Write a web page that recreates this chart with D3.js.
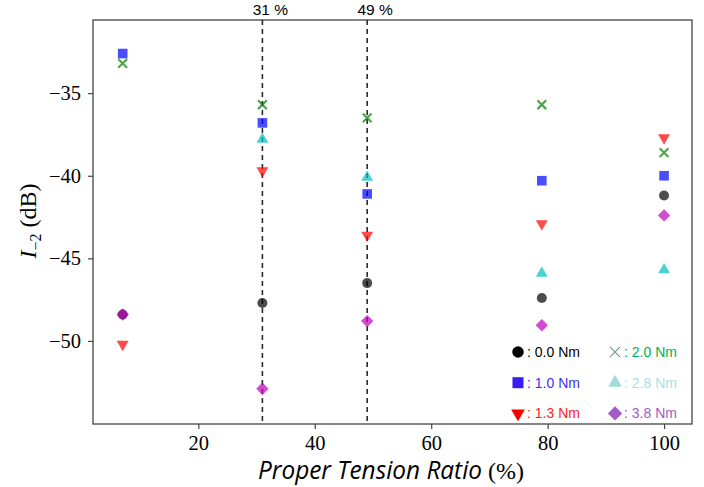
<!DOCTYPE html>
<html>
<head>
<style>
  body { margin: 0; background: #fff; overflow: hidden; }
  .leg text { font-family: "Liberation Sans", sans-serif; font-size: 14px; }
</style>
<script src="https://d3js.org/d3.v7.min.js"></script>
</head>
<body>
<svg width="704" height="487"></svg>
<script>
// proper tension ratio (%) for each column of points
var ratios = [7, 31, 49, 79, 100];
// I-2 (dB) for each load torque
var nm00 = [-48.4, -47.7, -46.5, -47.4, -41.2];
var nm10 = [-32.6, -36.8, -41.1, -40.3, -40.0];
var nm13 = [-50.2, -39.7, -43.6, -42.9, -37.7];
var nm20 = [-33.2, -35.7, -36.5, -35.7, -38.6];
var nm28 = [null, -37.8, -40.1, -45.9, -45.7];
var nm38 = [-48.4, -52.9, -48.8, -49.05, -42.4];

var seriesNames = ["0.0 Nm", "1.0 Nm", "1.3 Nm", "2.0 Nm", "2.8 Nm", "3.8 Nm"];
var seriesValues = [nm00, nm10, nm13, nm20, nm28, nm38];
var markers = ["circle", "square", "down", "cross", "up", "diamond"];
var plotColors = ["#000000", "#0000ff", "#ff0000", "#008000", "#00bfbf", "#bf00bf"];
var legendMarkColors = ["#000000", "#3a1ef5", "#ff0000", "#6b9a7f", "#a0dcd8", "#a55ac8"];
var legendTextColors = ["#000000", "#3b30f0", "#ff2020", "#00b050", "#a8e0e0", "#a05cc0"];

var xTicks = [20, 40, 60, 80, 100];
var yTicks = [-35, -40, -45, -50];
var refLines = [31, 49];

var svg = d3.select("svg");
var pLeft = 93, pRight = 692, pTop = 20, pBottom = 424;

var x = d3.scaleLinear().domain([1.9, 104.8]).range([pLeft, pRight]);
var y = d3.scaleLinear().domain([-55.03, -30.57]).range([pBottom, pTop]);

// axes
var xAxis = svg.append("g")
    .attr("transform", "translate(0," + pBottom + ")")
    .call(d3.axisBottom(x).tickValues(xTicks).tickSize(5).tickPadding(6).tickFormat(d3.format("d")));
var yAxis = svg.append("g")
    .attr("transform", "translate(" + pLeft + ",0)")
    .call(d3.axisLeft(y).tickValues(yTicks).tickSize(5).tickPadding(7)
        .tickFormat(function (d) { return "\u2212" + Math.abs(d); }));
[xAxis, yAxis].forEach(function (a) {
    a.select(".domain").remove();
    a.selectAll("line").attr("stroke", "#444").attr("stroke-width", 1.2);
    a.selectAll("text").attr("fill", "#000")
        .style("font-family", "'Liberation Serif', serif").style("font-size", "20.5px");
});

svg.append("rect")
    .attr("x", pLeft).attr("y", pTop)
    .attr("width", pRight - pLeft).attr("height", pBottom - pTop)
    .attr("fill", "none").attr("stroke", "#444").attr("stroke-width", 1.3);

// dashed reference lines
svg.selectAll(".ref").data(refLines).enter().append("line")
    .attr("x1", function (d) { return x(d); }).attr("x2", function (d) { return x(d); })
    .attr("y1", pTop).attr("y2", pBottom)
    .attr("stroke", "#2a2a2a").attr("stroke-width", 1.6).attr("stroke-dasharray", "5,4");
svg.selectAll(".reflab").data(refLines).enter().append("text")
    .attr("x", function (d) { return x(d) + 8; }).attr("y", 15)
    .attr("text-anchor", "middle")
    .style("font-family", "'Liberation Sans', sans-serif").style("font-size", "15.5px")
    .text(function (d) { return d + " %"; });

// marker drawing
function drawMarker(g, type, color, s, alpha, thin) {
    if (type === "circle") {
        g.append("circle").attr("r", 5 * s).attr("fill", color);
    } else if (type === "square") {
        g.append("rect").attr("x", -4.8 * s).attr("y", -4.8 * s)
            .attr("width", 9.6 * s).attr("height", 9.6 * s).attr("fill", color);
    } else if (type === "up" || type === "down") {
        var p = d3.symbol().type(d3.symbolTriangle).size(62 * s * s)();
        g.append("path").attr("d", p).attr("fill", color)
            .attr("transform", type === "down" ? "rotate(180)" : null);
    } else if (type === "diamond") {
        var r = 6.2 * s;
        g.append("path").attr("d", "M0," + (-r) + "L" + r + ",0L0," + r + "L" + (-r) + ",0Z")
            .attr("fill", color);
    } else if (type === "cross") {
        var c = 4.4 * s;
        g.append("path").attr("d", "M" + (-c) + "," + (-c) + "L" + c + "," + c + "M" + (-c) + "," + c + "L" + c + "," + (-c))
            .attr("stroke", color).attr("stroke-width", thin ? 1.1 : 2.2).attr("fill", "none");
    }
    g.attr("opacity", alpha);
}

seriesValues.forEach(function (vals, i) {
    var pts = ratios.map(function (r, j) { return { r: r, v: vals[j] }; })
        .filter(function (d) { return d.v !== null; });
    svg.append("g").selectAll("g").data(pts).enter().append("g")
        .attr("transform", function (d) { return "translate(" + x(d.r) + "," + y(d.v) + ")"; })
        .each(function () { drawMarker(d3.select(this), markers[i], plotColors[i], 1, 0.7, false); });
});

// legend (two columns, three rows)
var leg = svg.append("g").attr("class", "leg");
seriesNames.forEach(function (name, i) {
    var col = i < 3 ? 0 : 1, row = i % 3;
    var mx = col === 0 ? 518 : 615, my = 352 + row * 30.7;
    var g = leg.append("g").attr("transform", "translate(" + mx + "," + my + ")");
    drawMarker(g, markers[i], legendMarkColors[i], 1.15, 1, true);
    leg.append("text").attr("x", mx + 9).attr("y", my + 5)
        .attr("fill", legendTextColors[i]).text(": " + name);
});

// axis titles
var xt = svg.append("text").attr("x", 258).attr("y", 479);
xt.append("tspan").style("font-family", "'Open Sans', sans-serif").style("font-style", "italic")
    .style("font-size", "25px").attr("textLength", 224).attr("lengthAdjust", "spacingAndGlyphs")
    .text("Proper Tension Ratio");
xt.append("tspan").attr("dx", 6).style("font-family", "'Liberation Serif', serif")
    .style("font-size", "24px").text("(%)");

var yt = svg.append("text").attr("transform", "translate(36,221) rotate(-90)")
    .attr("text-anchor", "middle").style("font-family", "'Liberation Serif', serif").style("font-size", "24px");
yt.append("tspan").style("font-style", "italic").text("I");
yt.append("tspan").attr("dy", 5).style("font-size", "16px").text("\u22122");
yt.append("tspan").attr("dy", -5).text(" (dB)");
</script>
</body>
</html>
